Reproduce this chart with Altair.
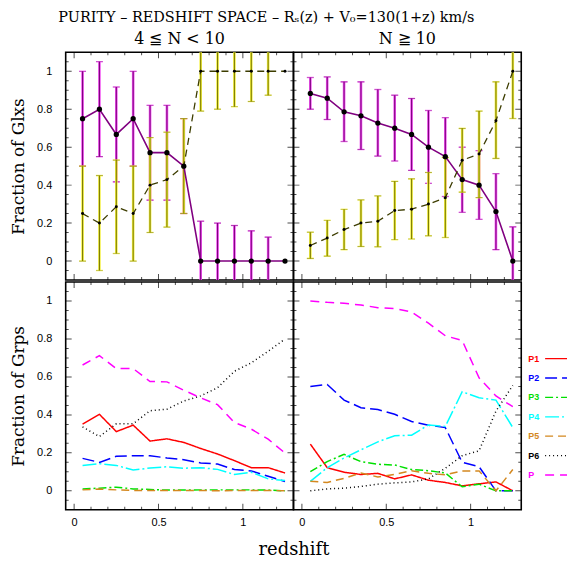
import altair as alt
import pandas as pd

SERIF = "DejaVu Serif"
SANS = "Liberation Sans"

z = [0.05, 0.15, 0.25, 0.35, 0.45, 0.55, 0.65, 0.75, 0.85, 0.95, 1.05, 1.15, 1.25]

# ---- top-left panel (4 <= N < 10): fraction of galaxies
tl_grp = [0.75, 0.80, 0.667, 0.75, 0.571, 0.571, 0.50, 0, 0, 0, 0, 0, 0]
tl_grp_lo = [0.50, 0.55, 0.417, 0.50, 0.321, 0.321, 0.25, -0.21, -0.20, -0.187, -0.159, -0.126, None]
tl_grp_hi = [1.00, 1.05, 0.917, 1.00, 0.821, 0.821, 0.75, 0.21, 0.20, 0.187, 0.159, 0.126, None]
tl_oth = [0.25, 0.20, 0.286, 0.25, 0.40, 0.429, 0.50, 1, 1, 1, 1, 1, 1]
tl_oth_lo = [0.0, -0.05, 0.04, 0.0, 0.15, 0.179, 0.25, 0.79, 0.80, 0.813, 0.841, 0.874, None]
tl_oth_hi = [0.5, 0.45, 0.532, 0.5, 0.65, 0.679, 0.75, 1.21, 1.20, 1.187, 1.159, 1.126, None]

# ---- top-right panel (N >= 10)
tr_grp = [0.883, 0.858, 0.786, 0.765, 0.727, 0.70, 0.667, 0.60, 0.55, 0.429, 0.40, 0.261, 0.0]
tr_grp_lo = [0.80, 0.746, 0.63, 0.588, 0.553, 0.527, 0.478, 0.41, 0.34, 0.257, 0.22, 0.06, -0.18]
tr_grp_hi = [0.967, 0.97, 0.944, 0.944, 0.904, 0.874, 0.856, 0.793, 0.755, 0.60, 0.581, 0.46, 0.18]
tr_oth = [0.082, 0.121, 0.166, 0.20, 0.21, 0.266, 0.273, 0.30, 0.334, 0.531, 0.564, 0.739, 1.0]
tr_oth_lo = [0.014, 0.026, 0.06, 0.077, 0.075, 0.112, 0.116, 0.133, 0.124, 0.363, 0.334, 0.541, 0.751]
tr_oth_hi = [0.152, 0.215, 0.273, 0.322, 0.343, 0.42, 0.433, 0.466, 0.545, 0.699, 0.79, 0.944, 1.25]

# ---- bottom panels: fraction of groups
series = ["P1", "P2", "P3", "P4", "P5", "P6", "P"]
colors = ["#ff0000", "#0000ff", "#00e000", "#00ffff", "#d4881f", "#000000", "#ff00ff"]
dashes = [[1, 0], [12, 5], [8, 3, 2, 3], [14, 3, 2, 3], [8, 5], [1, 3], [9, 6]]

bl = {
    "P1": [0.351, 0.403, 0.312, 0.346, 0.262, 0.274, 0.255, 0.223, 0.194, 0.159, 0.122, 0.122, 0.094],
    "P2": [0.171, 0.150, 0.182, 0.185, 0.185, 0.173, 0.164, 0.147, 0.141, 0.112, 0.105, 0.077, 0.049],
    "P3": [0.010, 0.014, 0.019, 0.010, 0.007, 0.004, 0.004, 0.005, 0.005, 0.005, 0.005, 0.004, 0.0],
    "P4": [0.133, 0.143, 0.134, 0.110, 0.120, 0.127, 0.119, 0.122, 0.113, 0.086, 0.098, 0.063, 0.054],
    "P5": [0.005, 0.010, 0.005, 0.002, 0.002, 0.002, 0.002, 0.002, 0.0, 0.002, 0.002, 0.002, 0.0],
    "P6": [0.337, 0.286, 0.353, 0.353, 0.422, 0.430, 0.473, 0.500, 0.543, 0.630, 0.674, 0.735, 0.800],
    "P":  [0.663, 0.712, 0.644, 0.644, 0.576, 0.574, 0.530, 0.490, 0.454, 0.360, 0.325, 0.272, 0.199],
}
br = {
    "P1": [0.246, 0.122, 0.098, 0.086, 0.092, 0.063, 0.084, 0.056, 0.044, 0.026, 0.037, 0.047, 0.0],
    "P2": [0.550, 0.560, 0.478, 0.438, 0.428, 0.403, 0.365, 0.346, 0.333, 0.150, 0.127, 0.0, 0.0],
    "P3": [0.101, 0.154, 0.192, 0.154, 0.140, 0.136, 0.112, 0.106, 0.094, 0.021, 0.035, 0.0, 0.0],
    "P4": [0.050, 0.122, 0.173, 0.216, 0.258, 0.290, 0.293, 0.347, 0.339, 0.522, 0.490, 0.478, 0.333],
    "P5": [0.050, 0.044, 0.066, 0.094, 0.073, 0.087, 0.106, 0.092, 0.084, 0.105, 0.105, 0.0, 0.112],
    "P6": [0.0, 0.010, 0.014, 0.023, 0.035, 0.042, 0.047, 0.063, 0.119, 0.185, 0.211, 0.420, 0.555],
    "P":  [1.0, 0.993, 0.988, 0.979, 0.965, 0.960, 0.942, 0.883, 0.817, 0.792, 0.595, 0.500, 0.443],
}

# tick marks (inside frame)
xtick_vals = [0, 0.1, 0.2, 0.3, 0.4, 0.5, 0.6, 0.7, 0.8, 0.9, 1.0, 1.1, 1.2]
xtick_major = [0, 0.5, 1.0]
ytick_vals = [-0.05, 0, 0.05, 0.1, 0.15, 0.2, 0.25, 0.3, 0.35, 0.4, 0.45, 0.5,
              0.55, 0.6, 0.65, 0.7, 0.75, 0.8, 0.85, 0.9, 0.95, 1.0, 1.05]
ytick_major = [0, 0.2, 0.4, 0.6, 0.8, 1.0]

W = 229
H = 229
XS = alt.Scale(domain=[-0.05, 1.3], nice=False, zero=False)
YS = alt.Scale(domain=[-0.1, 1.1], nice=False, zero=False)


def x_axis(show, title=None):
    if not show:
        return None
    kw = dict(values=[0, 0.5, 1], labelExpr="datum.value + ''", ticks=False, domain=False,
              grid=False, labelFont=SANS, labelFontSize=11, labelPadding=7, labelColor="black")
    if title:
        kw.update(title=title, titleFont=SERIF, titleFontSize=18, titleFontWeight="normal",
                  titleX=W, titleY=31, titleColor="black")
    else:
        kw.update(title=None)
    return alt.Axis(**kw)


def y_axis(show, title=None):
    if not show:
        return None
    return alt.Axis(values=[0, 0.2, 0.4, 0.6, 0.8, 1], labelExpr="datum.value + ''", ticks=False,
                    domain=False, grid=False, labelFont=SANS, labelFontSize=11, labelPadding=14,
                    labelColor="black", title=title, titleFont=SERIF, titleFontSize=17,
                    titleFontWeight="normal", titleColor="black", titlePadding=9)


def tick_layers(xax, yax):
    xt = pd.DataFrame({"v": xtick_vals, "len": [12 if v in xtick_major else 6 for v in xtick_vals]})
    yt = pd.DataFrame({"v": ytick_vals, "len": [12 if v in ytick_major else 6 for v in ytick_vals]})
    X = alt.X("v:Q", scale=XS, axis=xax)
    Y = alt.Y("v:Q", scale=YS, axis=yax)
    out = []
    for yp in (0, H):
        out.append(alt.Chart(xt).mark_tick(orient="vertical", clip=True, color="black", thickness=1)
                   .encode(x=X, y=alt.value(yp), size=alt.Size("len:Q", scale=None)))
    for xp in (0, W):
        out.append(alt.Chart(yt).mark_tick(orient="horizontal", clip=True, color="black", thickness=1)
                   .encode(y=Y, x=alt.value(xp), size=alt.Size("len:Q", scale=None)))
    return out


def top_panel(grp, glo, ghi, oth, olo, ohi, show_y, title):
    xax = x_axis(False)
    yax = y_axis(show_y, "Fraction of Glxs")
    df = pd.DataFrame({"z": z, "g": grp, "glo": glo, "ghi": ghi, "o": oth, "olo": olo, "ohi": ohi})
    X = alt.X("z:Q", scale=XS, axis=xax)
    base = alt.Chart(df)
    layers = []
    for lo, hi, outer, inner in (("glo", "ghi", "#f050f0", "#800080"), ("olo", "ohi", "#f4f040", "#7f7f00")):
        b = base.transform_filter(f"isValid(datum.{lo})")
        for col, w in ((outer, 2.6), (inner, 1.1)):
            layers.append(b.mark_rule(color=col, strokeWidth=w, clip=True)
                          .encode(x=X, y=alt.Y(f"{lo}:Q", scale=YS, axis=yax), y2=f"{hi}:Q"))
            for f in (lo, hi):
                layers.append(b.mark_tick(orient="horizontal", color=col, thickness=w * 0.6, size=7, clip=True)
                              .encode(x=X, y=alt.Y(f"{f}:Q", scale=YS, axis=yax)))
    layers.append(base.mark_line(color="#800080", strokeWidth=1.6, clip=True)
                  .encode(x=X, y=alt.Y("g:Q", scale=YS, axis=yax)))
    layers.append(base.mark_line(color="#3d3d00", strokeWidth=1.3, strokeDash=[7, 5], clip=True)
                  .encode(x=X, y=alt.Y("o:Q", scale=YS, axis=yax)))
    layers.append(base.mark_point(filled=True, color="black", size=28, opacity=1, clip=True)
                  .encode(x=X, y=alt.Y("g:Q", scale=YS, axis=yax)))
    layers.append(base.mark_point(filled=True, color="black", size=9, opacity=1, clip=True)
                  .encode(x=X, y=alt.Y("o:Q", scale=YS, axis=yax)))
    layers += tick_layers(xax, yax)
    return alt.layer(*layers).properties(
        width=W, height=H,
        title=alt.TitleParams(title, font=SERIF, fontSize=16, fontWeight="normal", offset=5, color="black"))


cscale = alt.Scale(domain=series, range=colors)
dscale = alt.Scale(domain=series, range=dashes)


def bottom_panel(data, show_y, xtitle):
    xax = x_axis(True, xtitle)
    yax = y_axis(show_y, "Fraction of Grps")
    rows = []
    for name in series:
        for zz, v in zip(z, data[name]):
            rows.append({"z": zz, "v": v, "name": name})
    df = pd.DataFrame(rows)
    lines = alt.Chart(df).mark_line(strokeWidth=1.5, clip=True).encode(
        x=alt.X("z:Q", scale=XS, axis=xax),
        y=alt.Y("v:Q", scale=YS, axis=yax),
        color=alt.Color("name:N", scale=cscale, legend=None),
        strokeDash=alt.StrokeDash("name:N", scale=dscale, legend=None),
        detail="name:N",
    )
    return alt.layer(lines, *tick_layers(xax, yax)).properties(width=W, height=H)


LEG_W = 46
leg_df = pd.DataFrame({"name": series})
LY = alt.Y("name:N", sort=series, scale=alt.Scale(type="point", domain=series, range=[77, 194], padding=0), axis=None)
leg_text = alt.Chart(leg_df).mark_text(align="left", baseline="middle", font=SANS, fontSize=9,
                                       fontWeight="bold").encode(
    x=alt.value(7), y=LY, text="name:N", color=alt.Color("name:N", scale=cscale, legend=None))
leg_line = alt.Chart(leg_df).mark_rule(strokeWidth=1.3).encode(
    x=alt.value(24), x2=alt.value(LEG_W), y=LY,
    color=alt.Color("name:N", scale=cscale, legend=None),
    strokeDash=alt.StrokeDash("name:N", scale=dscale, legend=None))
legend = alt.layer(leg_line, leg_text).properties(width=LEG_W, height=H, view=alt.ViewBackground(stroke=None))

tl = top_panel(tl_grp, tl_grp_lo, tl_grp_hi, tl_oth, tl_oth_lo, tl_oth_hi, True, "4 ≦ N < 10")
tr = top_panel(tr_grp, tr_grp_lo, tr_grp_hi, tr_oth, tr_oth_lo, tr_oth_hi, False, "N ≧ 10")
bl_c = bottom_panel(bl, True, "redshift")
br_c = bottom_panel(br, False, None)

top = alt.hconcat(tl, tr, spacing=0, bounds="flush")
bottom = alt.hconcat(bl_c, br_c, legend, spacing=0, bounds="flush")

chart = alt.vconcat(
    top, bottom, spacing=0,
    title=alt.TitleParams("PURITY – REDSHIFT SPACE – Rₛ(z) + V₀=130(1+z) km/s", font=SERIF,
                          fontSize=14.5, fontWeight="normal", anchor="middle", color="black", dx=-22, offset=5),
).properties(padding={"left": 0, "top": 0, "right": 0, "bottom": 4}).configure_view(
    stroke="black", strokeWidth=1.6
).configure_scale(bandPaddingInner=0)

chart.save("out.html", embed_options={"renderer": "svg", "actions": False})
